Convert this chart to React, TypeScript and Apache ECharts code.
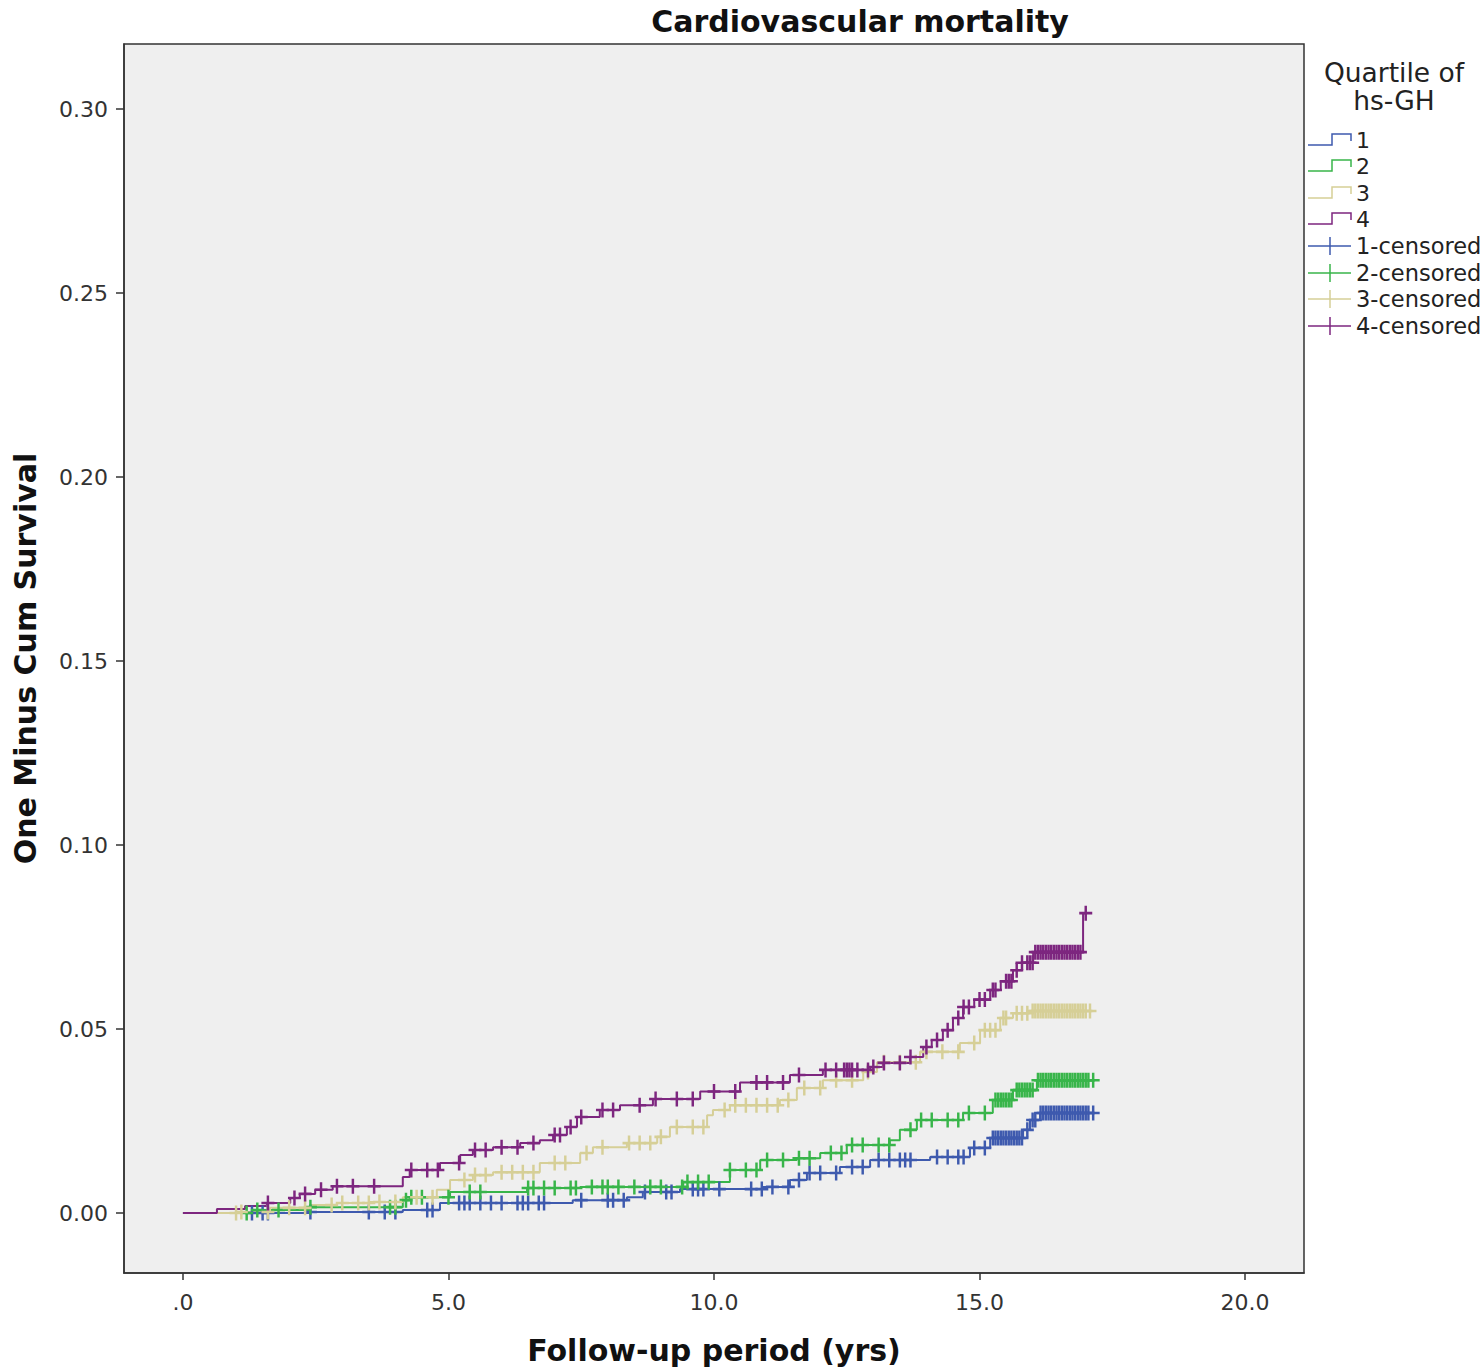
import React, { useEffect, useRef } from "react";
import * as echarts from "echarts";

// ---- Data ----
const xTicks = [0, 5, 10, 15, 20];
const yTicks = [0, 0.05, 0.1, 0.15, 0.2, 0.25, 0.3];

const groupNames = ["1", "2", "3", "4"];
const groupColors = ["#3e5aae", "#38b54a", "#d6cf97", "#7d267f"];

// Quartile 1 (blue)
const q1Times = [0, 2.39, 4.14, 4.84, 7.34, 8.36, 8.66, 9.36, 10.92, 11.43, 11.75, 12.37, 12.94, 14.07, 14.82, 15.2, 15.82, 15.95, 16.14, 17.14];
const q1Values = [0, 0.0003, 0.0008, 0.0027, 0.0035, 0.0043, 0.0057, 0.0065, 0.0071, 0.009, 0.0109, 0.0125, 0.0144, 0.0152, 0.0177, 0.0204, 0.0226, 0.0253, 0.0272, 0.0272];
const q1Censored = [1.3, 1.5, 1.6, 2.4, 3.5, 3.8, 4.0, 4.6, 4.7, 5.2, 5.3, 5.4, 5.6, 5.8, 6.0, 6.3, 6.4, 6.5, 6.7, 6.8, 7.5, 8.0, 8.1, 8.3, 8.7, 9.1, 9.2, 9.6, 9.7, 9.8, 10.1, 10.7, 10.9, 11.1, 11.4, 11.6, 11.8, 12.0, 12.3, 12.6, 12.8, 13.1, 13.3, 13.5, 13.6, 13.7, 14.2, 14.4, 14.6, 14.7, 14.9, 15.1, 15.25, 15.3, 15.35, 15.4, 15.45, 15.5, 15.55, 15.6, 15.65, 15.7, 15.75, 15.8, 15.9, 16.0, 16.05, 16.15, 16.2, 16.25, 16.3, 16.35, 16.4, 16.45, 16.5, 16.55, 16.6, 16.65, 16.7, 16.75, 16.8, 16.85, 16.9, 16.95, 17.0, 17.05, 17.14];

// Quartile 2 (green)
const q2Times = [0, 1.32, 2.39, 4.14, 4.27, 5.03, 6.48, 7.48, 9.42, 10.3, 10.87, 11.56, 12.0, 12.5, 13.31, 13.5, 13.82, 14.69, 15.25, 15.63, 16.08, 17.14];
const q2Values = [0, 0.0008, 0.0016, 0.0035, 0.0043, 0.0057, 0.0068, 0.0071, 0.0084, 0.0117, 0.0144, 0.0149, 0.0163, 0.0185, 0.0198, 0.0226, 0.0253, 0.0272, 0.0307, 0.0334, 0.0361, 0.0361];
const q2Censored = [1.2, 1.4, 1.8, 2.4, 3.9, 4.0, 4.2, 4.3, 4.5, 5.0, 5.4, 5.6, 6.5, 6.6, 6.8, 7.0, 7.3, 7.4, 7.7, 7.9, 8.0, 8.2, 8.5, 8.8, 9.0, 9.4, 9.5, 9.7, 9.9, 10.3, 10.6, 10.8, 11.0, 11.3, 11.6, 11.8, 12.2, 12.4, 12.6, 12.8, 13.1, 13.3, 13.7, 13.9, 14.1, 14.4, 14.6, 14.8, 15.1, 15.3, 15.35, 15.4, 15.45, 15.5, 15.55, 15.6, 15.7, 15.75, 15.8, 15.85, 15.9, 15.95, 16.0, 16.1, 16.15, 16.2, 16.25, 16.3, 16.35, 16.4, 16.45, 16.5, 16.55, 16.6, 16.65, 16.7, 16.75, 16.8, 16.85, 16.9, 16.95, 17.0, 17.05, 17.14];

// Quartile 3 (tan)
const q3Times = [0, 1.02, 1.64, 2.39, 2.9, 3.52, 4.14, 4.78, 5.03, 5.46, 5.84, 6.72, 7.48, 7.72, 8.36, 8.93, 9.17, 9.87, 9.98, 10.3, 11.24, 11.56, 12.05, 12.81, 13.07, 13.88, 14.63, 15.01, 15.39, 15.63, 15.95, 17.08];
const q3Values = [0, 0.0003, 0.0014, 0.0022, 0.0027, 0.003, 0.0043, 0.0063, 0.009, 0.0103, 0.0111, 0.0136, 0.0163, 0.0179, 0.019, 0.0207, 0.0234, 0.0266, 0.028, 0.0293, 0.0307, 0.034, 0.0361, 0.0383, 0.041, 0.0438, 0.0462, 0.0497, 0.053, 0.0543, 0.0549, 0.0549];
const q3Censored = [1.0, 1.1, 1.6, 2.0, 2.3, 2.8, 3.0, 3.3, 3.5, 3.7, 4.0, 4.4, 4.7, 5.3, 5.5, 5.7, 6.0, 6.2, 6.4, 6.6, 7.0, 7.2, 7.6, 7.9, 8.4, 8.6, 8.8, 9.0, 9.3, 9.6, 9.8, 10.2, 10.4, 10.6, 10.8, 11.0, 11.2, 11.4, 11.7, 12.0, 12.3, 12.6, 12.9, 13.2, 13.5, 13.8, 14.0, 14.3, 14.6, 14.9, 15.1, 15.2, 15.3, 15.45, 15.5, 15.7, 15.8, 15.9, 16.0, 16.05, 16.1, 16.15, 16.2, 16.25, 16.3, 16.35, 16.4, 16.45, 16.5, 16.55, 16.6, 16.65, 16.7, 16.75, 16.8, 16.85, 16.9, 16.95, 17.0, 17.08];

// Quartile 4 (purple)
const q4Times = [0, 0.64, 1.17, 1.58, 2.02, 2.2, 2.49, 2.82, 4.14, 4.27, 4.84, 5.22, 5.46, 5.84, 6.35, 6.72, 6.97, 7.23, 7.42, 7.85, 8.23, 8.85, 9.74, 10.49, 11.43, 12.05, 12.94, 13.18, 13.69, 13.94, 14.1, 14.31, 14.5, 14.69, 14.9, 15.2, 15.4, 15.63, 15.8, 16.01, 16.95, 17.0];
const q4Values = [0, 0.0011, 0.0019, 0.0027, 0.0041, 0.0052, 0.0063, 0.0073, 0.0098, 0.0117, 0.0136, 0.0158, 0.0171, 0.0179, 0.019, 0.0198, 0.0212, 0.0234, 0.0261, 0.028, 0.0293, 0.031, 0.033, 0.0355, 0.0375, 0.0389, 0.0397, 0.0408, 0.0424, 0.0451, 0.047, 0.0497, 0.053, 0.056, 0.058, 0.0606, 0.063, 0.066, 0.068, 0.0709, 0.0815, 0.0815];
const q4Censored = [1.6, 2.1, 2.3, 2.6, 2.9, 3.2, 3.6, 4.3, 4.6, 4.8, 5.2, 5.5, 5.7, 6.0, 6.3, 6.6, 7.0, 7.1, 7.3, 7.5, 7.9, 8.1, 8.6, 8.9, 9.3, 9.6, 10.0, 10.4, 10.8, 11.0, 11.3, 11.6, 12.1, 12.3, 12.45, 12.5, 12.55, 12.6, 12.7, 12.9, 13.0, 13.2, 13.5, 13.7, 14.0, 14.2, 14.4, 14.6, 14.7, 14.8, 15.0, 15.1, 15.25, 15.3, 15.5, 15.55, 15.6, 15.7, 15.8, 15.9, 15.95, 16.0, 16.05, 16.1, 16.15, 16.2, 16.25, 16.3, 16.35, 16.4, 16.45, 16.5, 16.55, 16.6, 16.65, 16.7, 16.75, 16.8, 16.85, 16.9, 17.0];

const allTimes = [q1Times, q2Times, q3Times, q4Times];
const allValues = [q1Values, q2Values, q3Values, q4Values];
const allCensored = [q1Censored, q2Censored, q3Censored, q4Censored];

const FONT = "DejaVu Sans";
const PLUS = "path://M-1,-0.17 L1,-0.17 L1,0.17 L-1,0.17 Z M-0.19,-1 L0.19,-1 L0.19,1 L-0.19,1 Z";

function stepAt(times: number[], values: number[], t: number) {
  let v = values[0];
  for (let i = 0; i < times.length; i++) {
    if (times[i] <= t + 1e-9) v = values[i];
  }
  return v;
}

export default function App() {
  const ref = useRef<HTMLDivElement>(null);
  useEffect(() => {
    if (!ref.current) return;
    const chart = echarts.init(ref.current, undefined, { renderer: "svg" });

    const lineSeries = groupNames.map((g, i) => ({
      name: g,
      type: "line",
      step: "end",
      showSymbol: false,
      data: allTimes[i].map((t, j) => [t, allValues[i][j]]),
      lineStyle: { color: groupColors[i], width: 2 },
      z: 2 + i,
    }));
    const censSeries = groupNames.map((g, i) => ({
      name: g + "-censored",
      type: "scatter",
      symbol: PLUS,
      symbolSize: [13, 15],
      data: allCensored[i].map((t) => [t, stepAt(allTimes[i], allValues[i], t)]),
      itemStyle: { color: groupColors[i], opacity: 1 },
      z: 6 + i,
    }));

    const legendX = 1308;
    const legendItems: any[] = [];
    const rowY = [140, 166, 193, 219, 246, 273, 299, 326];
    groupNames.forEach((g, i) => {
      const y = rowY[i];
      legendItems.push({
        type: "polyline",
        shape: { points: [[legendX, y + 5], [legendX + 24, y + 5], [legendX + 24, y - 6], [legendX + 43, y - 6], [legendX + 43, y + 1]] },
        style: { stroke: groupColors[i], lineWidth: 1.5, fill: null },
      });
      legendItems.push({
        type: "text", x: 1356, y, style: { text: g, font: `22px '${FONT}'`, fill: "#222", textVerticalAlign: "middle" },
      });
    });
    groupNames.forEach((g, i) => {
      const y = rowY[4 + i];
      legendItems.push({
        type: "line", shape: { x1: legendX, y1: y, x2: legendX + 43, y2: y },
        style: { stroke: groupColors[i], lineWidth: 1.5 },
      });
      legendItems.push({
        type: "line", shape: { x1: legendX + 22, y1: y - 9, x2: legendX + 22, y2: y + 9 },
        style: { stroke: groupColors[i], lineWidth: 1.5 },
      });
      legendItems.push({
        type: "text", x: 1356, y, style: { text: g + "-censored", font: `22.5px '${FONT}'`, fill: "#222", textVerticalAlign: "middle" },
      });
    });
    legendItems.push({
      type: "text", x: 1394, y: 72, style: { text: "Quartile of", font: `26.5px '${FONT}'`, fill: "#222", textAlign: "center", textVerticalAlign: "middle" },
    });
    legendItems.push({
      type: "text", x: 1394, y: 100, style: { text: "hs-GH", font: `26.5px '${FONT}'`, fill: "#222", textAlign: "center", textVerticalAlign: "middle" },
    });
    legendItems.push({
      type: "text", x: 860, y: 21, style: { text: "Cardiovascular mortality", font: `bold 30px '${FONT}'`, fill: "#111", textAlign: "center", textVerticalAlign: "middle" },
    });

    chart.setOption({
      animation: false,
      backgroundColor: "#ffffff",
      textStyle: { fontFamily: FONT },
      grid: {
        left: 124, top: 44, right: 178, bottom: 97,
        containLabel: false,
        outerBoundsMode: "none",
        show: true, backgroundColor: "#efefef", borderColor: "#333", borderWidth: 1.5,
      },
      xAxis: {
        type: "value",
        min: -1.11,
        max: 21.11,
        name: "Follow-up period (yrs)",
        nameLocation: "middle",
        nameGap: 62,
        nameTextStyle: { fontFamily: FONT, fontSize: 30, fontWeight: "bold", color: "#111" },
        axisLine: { show: true, onZero: false, lineStyle: { color: "#333", width: 1.5 } },
        axisTick: { show: true, inside: false, length: 7, lineStyle: { color: "#333", width: 1.5 }, customValues: xTicks },
        axisLabel: {
          customValues: xTicks,
          fontFamily: FONT, fontSize: 22, color: "#333", margin: 18,
          formatter: (v: number) => (v === 0 ? ".0" : v.toFixed(1)),
        },
        splitLine: { show: false },
      },
      yAxis: {
        type: "value",
        min: -0.0163,
        max: 0.3177,
        name: "One Minus Cum Survival",
        nameLocation: "middle",
        nameGap: 84,
        nameTextStyle: { fontFamily: FONT, fontSize: 30, fontWeight: "bold", color: "#111" },
        axisLine: { show: true, onZero: false, lineStyle: { color: "#333", width: 1.5 } },
        axisTick: { show: true, inside: false, length: 8, lineStyle: { color: "#333", width: 1.5 }, customValues: yTicks },
        axisLabel: {
          customValues: yTicks,
          fontFamily: FONT, fontSize: 22, color: "#333", margin: 16,
          formatter: (v: number) => v.toFixed(2),
        },
        splitLine: { show: false },
      },
      series: [...lineSeries, ...censSeries],
      graphic: legendItems,
    });
    return () => chart.dispose();
  }, []);
  return (
    <div
      ref={ref}
      style={{ position: "absolute", left: 0, top: 0, width: 1482, height: 1370, background: "#fff" }}
    />
  );
}
